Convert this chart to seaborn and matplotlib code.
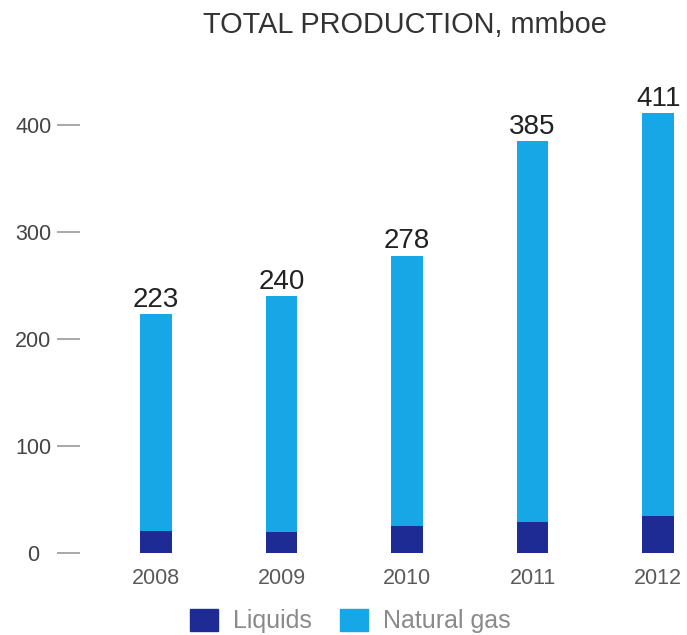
import matplotlib
matplotlib.use("Agg")
import matplotlib.pyplot as plt
import matplotlib.patches as mpatches
import seaborn as sns
import pandas as pd

years = ["2008", "2009", "2010", "2011", "2012"]
liquids = [21, 20, 25, 29, 35]
natural_gas = [202, 220, 253, 356, 376]
y_ticks = [0, 100, 200, 300, 400]

LIQ_COLOR = "#1f2b95"
GAS_COLOR = "#17a7e6"

sns.set_theme(style="white")
plt.rcParams["font.family"] = ["Liberation Sans", "DejaVu Sans"]

df = pd.DataFrame({
    "year": years,
    "liquids": liquids,
    "natural_gas": natural_gas,
})
df["total"] = df["liquids"] + df["natural_gas"]

fig = plt.figure(figsize=(6.87, 6.35), dpi=100)
ax = fig.add_axes([80 / 687, (635 - 553) / 635, 607 / 687, (553 - 80) / 635])

# stacked bars: full height in gas colour, liquids drawn over the base
sns.barplot(data=df, x="year", y="total", color=GAS_COLOR, width=0.25,
            saturation=1, ax=ax, linewidth=0)
sns.barplot(data=df, x="year", y="liquids", color=LIQ_COLOR, width=0.25,
            saturation=1, ax=ax, linewidth=0)

ax.bar_label(ax.containers[0], labels=[str(v) for v in df["total"]],
             padding=1, fontsize=20, color="#222222")

ax.set_xlim(-0.606, 4.23)
ax.set_ylim(0, 442)
ax.set_yticks(y_ticks)
ax.set_xlabel("")
ax.set_ylabel("")
for s in ax.spines.values():
    s.set_visible(False)

ax.tick_params(axis="x", length=0, pad=11, labelsize=15.5, labelcolor="#5a5a5a")
ax.tick_params(axis="y", left=True, length=16.5, width=1.2, color="#9a9a9a",
               pad=17, labelsize=15.5, labelcolor="#444444")
for lbl in ax.get_yticklabels():
    lbl.set_horizontalalignment("center")

fig.text(0.59, 0.961, "TOTAL PRODUCTION, mmboe", ha="center", va="center",
         fontsize=20.8, color="#333333")

handles = [mpatches.Patch(color=LIQ_COLOR, label="Liquids"),
           mpatches.Patch(color=GAS_COLOR, label="Natural gas")]
fig.legend(handles=handles, loc="center", bbox_to_anchor=(0.51, 0.022),
           ncol=2, frameon=False, fontsize=18, labelcolor="#8a8a8a",
           handlelength=1.15, handleheight=1.0, handletextpad=0.6,
           columnspacing=1.1)

fig.savefig("out.png", dpi=100, facecolor="white")
